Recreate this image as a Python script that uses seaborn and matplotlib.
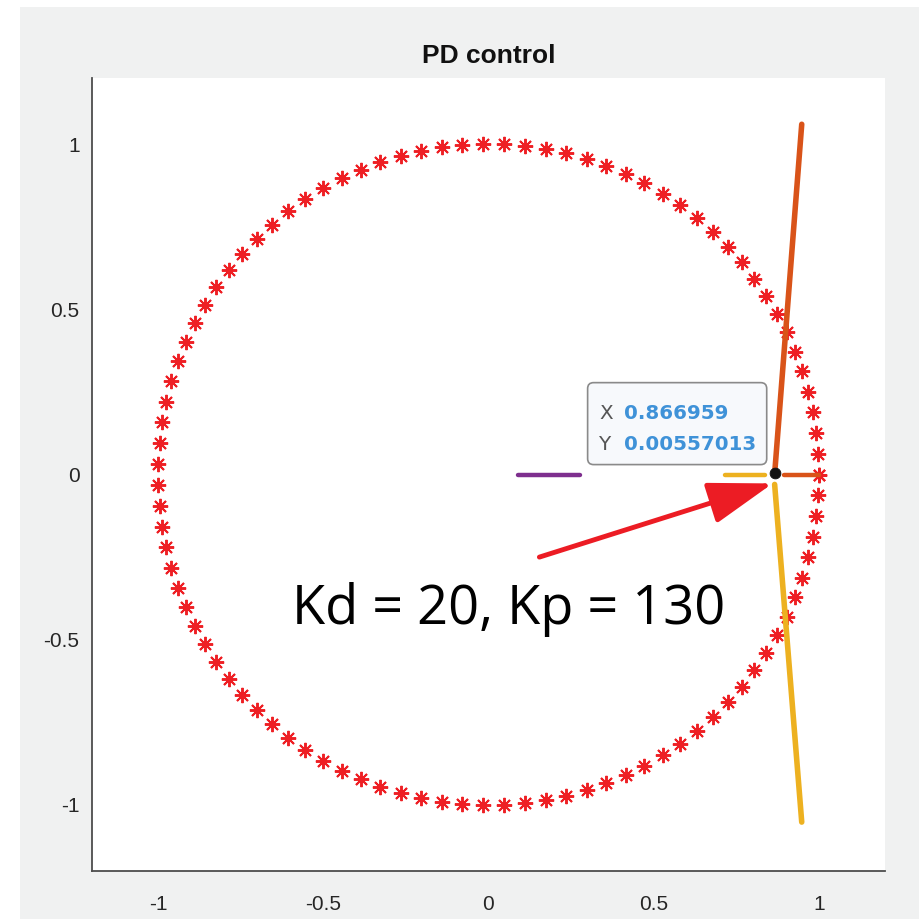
import matplotlib
matplotlib.use("Agg")
import matplotlib.pyplot as plt
from matplotlib.patches import FancyBboxPatch, Rectangle
import seaborn as sns
import pandas as pd

# Reference circle samples (x, y) on the upper half; lower half mirrors them
upper_x = [1.000, 0.998, 0.992, 0.982, 0.968, 0.950, 0.928, 0.903, 0.874, 0.841,
           0.805, 0.766, 0.724, 0.679, 0.631, 0.580, 0.527, 0.472, 0.415, 0.357,
           0.297, 0.236, 0.174, 0.111, 0.048, -0.016, -0.079, -0.142, -0.205, -0.266,
           -0.327, -0.386, -0.444, -0.500, -0.554, -0.606, -0.655, -0.702, -0.745, -0.786,
           -0.824, -0.858, -0.889, -0.916, -0.940, -0.960, -0.975, -0.987, -0.995, -1.000]
upper_y = [0.000, 0.063, 0.127, 0.189, 0.251, 0.312, 0.370, 0.430, 0.486, 0.541,
           0.593, 0.643, 0.690, 0.735, 0.776, 0.815, 0.850, 0.881, 0.910, 0.934,
           0.955, 0.972, 0.985, 0.994, 0.999, 1.000, 0.997, 0.990, 0.979, 0.964,
           0.945, 0.922, 0.896, 0.866, 0.833, 0.796, 0.756, 0.713, 0.667, 0.618,
           0.566, 0.513, 0.458, 0.401, 0.342, 0.282, 0.220, 0.158, 0.095, 0.032]
circle_x = upper_x + upper_x[::-1]
circle_y = upper_y + [-v for v in upper_y[::-1]]

# Link segments: (x values, y values)
purple_seg = ([0.090, 0.278], [0.0, 0.0])
yellow_short = ([0.717, 0.838], [0.0, 0.0])
orange_short = ([0.893, 1.000], [0.0, 0.0])
orange_long = ([0.867, 0.948], [0.015, 1.060])
yellow_long = ([0.866, 0.948], [-0.030, -1.052])

tip_x, tip_y = 0.866959, 0.00557013

xticks = [-1, -0.5, 0, 0.5, 1]
yticks = [-1, -0.5, 0, 0.5, 1]
tick_labels = ["-1", "-0.5", "0", "0.5", "1"]

sns.set_theme(style="white")
plt.rcParams["font.family"] = ["Liberation Sans", "DejaVu Sans"]

BG = "#f0f1f1"
fig = plt.figure(figsize=(9.2, 9.19), dpi=100, facecolor=BG)
# white paper margin on the left and top
fig.patches.append(Rectangle((0, 0), 20 / 920, 1, transform=fig.transFigure,
                             facecolor="white", edgecolor="none", zorder=-10))
fig.patches.append(Rectangle((0, 1 - 7 / 919), 1, 7 / 919, transform=fig.transFigure,
                             facecolor="white", edgecolor="none", zorder=-10))

ax = fig.add_axes([92 / 920, 1 - 871 / 919, 793 / 920, 793 / 919])
ax.set_facecolor("white")

red = "#ee1f24"
circle_df = pd.DataFrame({"x": circle_x, "y": circle_y})
ax.plot(circle_df["x"], circle_df["y"], linestyle="none", marker=(8, 2, 0),
        markersize=11, markeredgewidth=1.4, color=red, zorder=3)

def seg(xs, ys, color, lw):
    df = pd.DataFrame({"x": xs, "y": ys})
    sns.lineplot(data=df, x="x", y="y", sort=False, color=color, lw=lw,
                 solid_capstyle="round", ax=ax, zorder=4)

seg(*purple_seg, "#7e2f8e", 3.2)
seg(*yellow_short, "#edb120", 3.2)
seg(*orange_short, "#d95319", 3.2)
seg(*orange_long, "#d95319", 4.0)
seg(*yellow_long, "#edb120", 4.0)

sns.scatterplot(x=[tip_x], y=[tip_y], color="#111111", s=60, ax=ax, zorder=6,
                edgecolor="#111111")

# data tip box
box = FancyBboxPatch((0.300, 0.030), 0.542, 0.248,
                     boxstyle="round,pad=0.0,rounding_size=0.018",
                     facecolor="#f7f9fc", edgecolor="#8a8a8a", lw=1.2, zorder=7)
ax.add_patch(box)
tip_font = ["DejaVu Sans"]
row1, row2 = 0.185, 0.092
ax.text(0.335, row1, "X", color="#555555", fontsize=14.3, family=tip_font,
        va="center", ha="left", zorder=8)
ax.text(0.335, row2, "Y", color="#555555", fontsize=14.3, family=tip_font,
        va="center", ha="left", zorder=8)
ax.text(0.409, row1, f"{tip_x:g}", color="#3f92d8", fontsize=14.3, fontweight="bold",
        family=tip_font, va="center", ha="left", zorder=8)
ax.text(0.409, row2, f"{tip_y:g}", color="#3f92d8", fontsize=14.3, fontweight="bold",
        family=tip_font, va="center", ha="left", zorder=8)

# annotation arrow and gains label
ax.annotate("", xy=(0.860, -0.027), xytext=(0.154, -0.250),
            arrowprops=dict(arrowstyle="-|>,head_length=2.0,head_width=0.65",
                            mutation_scale=20, lw=3.5, color="#ec1c24",
                            shrinkA=0, shrinkB=0), zorder=9)
ax.text(-0.594, -0.4525, "Kd = 20, Kp = 130", fontsize=39, color="black",
        family=["Open Sans", "DejaVu Sans"], ha="left", va="baseline", zorder=9)

ax.set_xlim(-1.2, 1.2)
ax.set_ylim(-1.2, 1.2)
ax.set_xticks(xticks)
ax.set_yticks(yticks)
ax.set_xticklabels(tick_labels)
ax.set_yticklabels(tick_labels)
ax.set_xlabel("")
ax.set_ylabel("")
for side in ("top", "right"):
    ax.spines[side].set_visible(False)
for side in ("left", "bottom"):
    ax.spines[side].set_color("#4d4d4d")
    ax.spines[side].set_linewidth(1.3)
ax.tick_params(direction="in", length=6, width=1.0, colors="#4d4d4d",
               labelsize=15, labelcolor="#262626")
ax.tick_params(axis="x", pad=17)
ax.tick_params(axis="y", pad=9)
ax.set_title("PD control", fontsize=19, fontweight="bold", color="#111111", pad=11)

fig.savefig("out.png", dpi=100, facecolor=BG)
